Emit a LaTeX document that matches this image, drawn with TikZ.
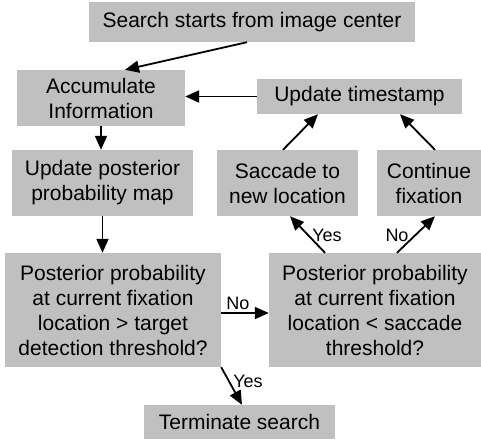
\documentclass[tikz,border=0pt]{standalone}
\usepackage{fontspec}
\setmainfont{Liberation Sans}
\usetikzlibrary{arrows.meta}
\definecolor{boxgray}{RGB}{192,192,192}
\begin{document}
\begin{tikzpicture}[x=1pt,y=-1pt,
  box/.style={fill=boxgray,draw=none,inner sep=0pt,align=center,
    font=\fontsize{21}{25}\selectfont},
  arr/.style={line width=1.8pt,-{Triangle[length=14pt,width=12pt]}},
  lbl/.style={font=\fontsize{18}{20}\selectfont,inner sep=0pt}]
\useasboundingbox (0,0) rectangle (481,439);
\node[box,minimum width=326pt,minimum height=40pt] (search) at (252,22) {Search starts from image center};
\node[box,minimum width=168pt,minimum height=56pt] (acc) at (101,98) {Accumulate\\Information};
\node[box,minimum width=205pt,minimum height=35pt] (ts) at (359.5,96.5) {Update timestamp};
\node[box,minimum width=181pt,minimum height=66pt] (upd) at (102.5,183) {Update posterior\\probability map};
\node[box,minimum width=141pt,minimum height=66pt] (sac) at (287.5,183) {Saccade to\\new location};
\node[box,minimum width=104pt,minimum height=66pt] (cont) at (429,183) {Continue\\fixation};
\node[box,minimum width=216pt,minimum height=114pt] (pa) at (113,310) {Posterior probability\\at current fixation\\location > target\\detection threshold?};
\node[box,minimum width=212pt,minimum height=114pt] (pb) at (375,310) {Posterior probability\\at current fixation\\location < saccade\\threshold?};
\node[box,minimum width=191pt,minimum height=34pt] (term) at (239.5,422) {Terminate search};

\draw[arr] ([xshift=-5pt]search.south) -- ([xshift=24pt]acc.north);
\draw[arr] (ts.west) -- (acc.east |- ts.west);
\draw[arr] (acc.south) -- (acc.south |- upd.north);
\draw[arr] (upd.south) -- (upd.south |- pa.north);
\draw[arr] ([xshift=-4.5pt]sac.north) -- ([xshift=-41.5pt]ts.south);
\draw[arr] ([xshift=6pt]cont.north) -- ([xshift=40.5pt]ts.south);
\draw[arr] ([xshift=-50pt]pb.north) -- ([xshift=2.5pt]sac.south);
\draw[arr] ([xshift=22pt]pb.north) -- ([xshift=6pt]cont.south);
\draw[arr] ([yshift=-3pt]pa.east) -- ([yshift=-3pt]pb.west);
\draw[arr] (pa.south east) -- ([xshift=2.5pt]term.north);
\node[lbl] (l1) at (327,235) {Yes};
\node[lbl] (l2) at (397,235) {No};
\node[lbl] (l3) at (238,303) {No};
\node[lbl] (l4) at (248,381) {Yes};
\end{tikzpicture}
\end{document}
